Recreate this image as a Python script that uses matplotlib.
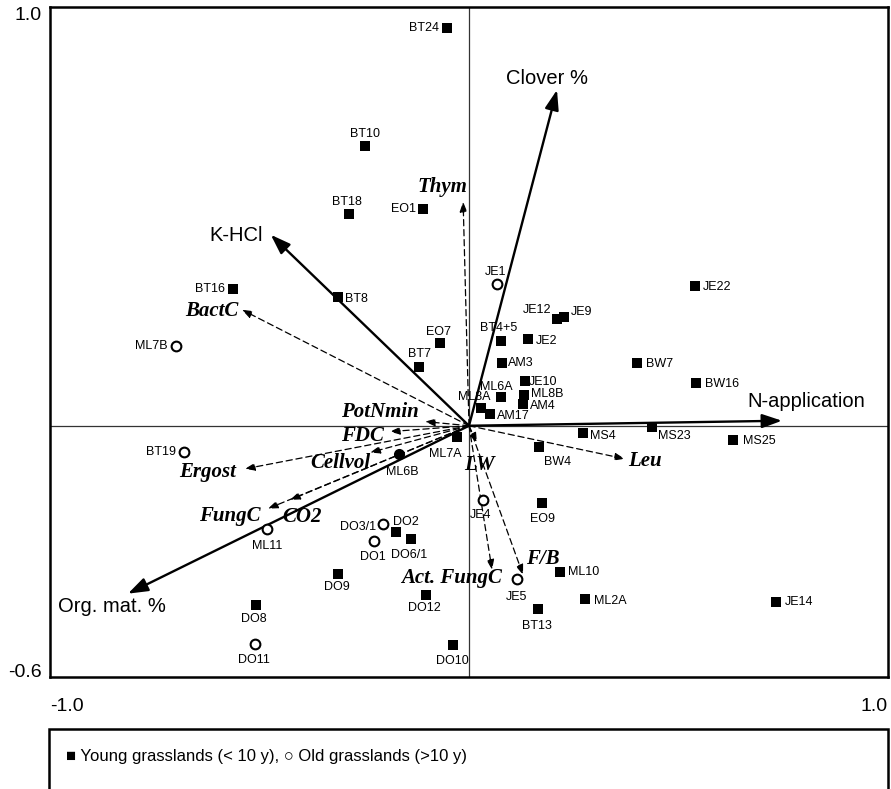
import matplotlib.pyplot as plt
from matplotlib.patches import Rectangle

plt.rcParams['font.family'] = ['Liberation Sans', 'DejaVu Sans']

# sites, young grasslands (< 10 y)
young_names = ['BT24', 'BT10', 'BT18', 'EO1', 'BT16', 'BT8', 'EO7', 'BT7', 'JE22',
               'JE12', 'JE9', 'BT4+5', 'JE2', 'AM3', 'BW7', 'BW16', 'JE10', 'ML6A',
               'ML8B', 'AM4', 'ML8A', 'AM17', 'ML7A', 'MS4', 'MS23', 'MS25', 'BW4',
               'EO9', 'DO2', 'DO6/1', 'DO9', 'DO12', 'DO8', 'DO10', 'ML10', 'ML2A',
               'BT13', 'JE14']
young_x = [-0.053, -0.248, -0.286, -0.110, -0.563, -0.313, -0.069, -0.119, 0.539,
           0.210, 0.227, 0.076, 0.141, 0.079, 0.401, 0.542, 0.134, 0.076,
           0.131, 0.129, 0.029, 0.050, -0.029, 0.272, 0.437, 0.630, 0.167,
           0.174, -0.174, -0.138, -0.313, -0.103, -0.508, -0.038, 0.217, 0.277,
           0.165, 0.733]
young_y = [0.950, 0.669, 0.506, 0.518, 0.327, 0.308, 0.198, 0.141, 0.334,
           0.256, 0.260, 0.203, 0.208, 0.150, 0.150, 0.103, 0.107, 0.069,
           0.074, 0.053, 0.043, 0.029, -0.026, -0.017, -0.002, -0.033, -0.050,
           -0.184, -0.253, -0.270, -0.353, -0.404, -0.427, -0.523, -0.349, -0.413,
           -0.437, -0.420]

# sites, old grasslands (> 10 y)
old_names = ['JE1', 'ML7B', 'BT19', 'ML11', 'DO3/1', 'DO1', 'DO11', 'JE4', 'JE5']
old_x = [0.067, -0.699, -0.680, -0.482, -0.205, -0.227, -0.511, 0.033, 0.115]
old_y = [0.339, 0.191, -0.062, -0.246, -0.234, -0.275, -0.521, -0.177, -0.365]

dot_names = ['ML6B']
dot_x = [-0.167]
dot_y = [-0.067]

# environmental variables (solid arrows)
env_names = ['Clover %', 'K-HCl', 'N-application', 'Org. mat. %']
env_x = [0.210, -0.473, 0.747, -0.814]
env_y = [0.802, 0.456, 0.012, -0.401]

# microbial variables (dashed arrows)
mic_names = ['Thym', 'BactC', 'PotNmin', 'FDC', 'Cellvol', 'Ergost', 'FungC', 'CO2',
             'LW', 'Leu', 'Act. FungC', 'F/B']
mic_x = [-0.014, -0.542, -0.105, -0.189, -0.236, -0.535, -0.480, -0.427,
         0.019, 0.372, 0.055, 0.129]
mic_y = [0.535, 0.277, 0.010, -0.014, -0.064, -0.103, -0.198, -0.177,
         -0.041, -0.079, -0.344, -0.356]

# where the arrow labels sit
env_label_xy = [(0.186, 0.829), (-0.556, 0.454), (0.804, 0.057), (-0.852, -0.432)]
mic_label_xy = [(-0.064, 0.571), (-0.613, 0.275), (-0.212, 0.033), (-0.255, -0.024),
                (-0.308, -0.088), (-0.625, -0.110), (-0.570, -0.215), (-0.399, -0.217),
                (0.026, -0.093), (0.420, -0.084), (-0.042, -0.363), (0.177, -0.318)]

# site label offsets in pixels (dx, dy, ha)
label_off = {
    'BT24': (-8, 0, 'right'), 'BT10': (0, 12, 'center'), 'BT18': (-2, 12, 'center'),
    'EO1': (-7, 0, 'right'), 'BT16': (-8, 0, 'right'), 'BT8': (7, -2, 'left'),
    'EO7': (-2, 11, 'center'), 'BT7': (0, 13, 'center'), 'JE22': (8, -1, 'left'),
    'JE12': (-20, 9, 'center'), 'JE9': (7, 5, 'left'), 'BT4+5': (-2, 13, 'center'),
    'JE2': (8, -2, 'left'), 'AM3': (6, 0, 'left'), 'BW7': (9, -1, 'left'),
    'BW16': (9, -1, 'left'), 'JE10': (4, -1, 'left'), 'ML6A': (-5, 10, 'center'),
    'ML8B': (7, 1, 'left'), 'AM4': (7, -2, 'left'), 'ML8A': (-7, 11, 'center'),
    'AM17': (7, -2, 'left'), 'ML7A': (-12, -17, 'center'), 'MS4': (7, -3, 'left'),
    'MS23': (6, -9, 'left'), 'MS25': (10, -1, 'left'), 'BW4': (19, -15, 'center'),
    'EO9': (1, -16, 'center'), 'DO2': (10, 10, 'center'), 'DO6/1': (-2, -16, 'center'),
    'DO9': (-1, -13, 'center'), 'DO12': (-1, -13, 'center'), 'DO8': (-2, -14, 'center'),
    'DO10': (-1, -16, 'center'), 'ML10': (8, 0, 'left'), 'ML2A': (9, -2, 'left'),
    'BT13': (-1, -17, 'center'), 'JE14': (9, 0, 'left'), 'JE1': (-1, 12, 'center'),
    'ML7B': (-8, 0, 'right'), 'BT19': (-8, 0, 'right'), 'ML11': (0, -17, 'center'),
    'DO3/1': (-7, -3, 'right'), 'DO1': (-1, -16, 'center'), 'DO11': (-1, -16, 'center'),
    'JE4': (-2, -15, 'center'), 'JE5': (-1, -18, 'center'), 'ML6B': (3, -18, 'center'),
}

fig = plt.figure(figsize=(8.91, 7.89), dpi=100)
ax = fig.add_axes([50 / 891, 112 / 789, 838 / 891, 670 / 789])
ax.set_xlim(-1.0, 1.0)
ax.set_ylim(-0.6, 1.0)
for sp in ax.spines.values():
    sp.set_linewidth(1.8)

ax.axhline(0, color='#333333', lw=0.9, zorder=1)
ax.axvline(0, color='#333333', lw=0.9, zorder=1)

ax.set_xticks([-1.0, 1.0], ['-1.0', '1.0'])
ax.set_yticks([-0.6, 1.0], ['-0.6', '1.0'])
ax.tick_params(length=0, labelsize=14)
ax.tick_params(axis='x', pad=15)
ax.tick_params(axis='y', pad=6)
xl = ax.get_xticklabels()
xl[0].set_ha('left')
xl[1].set_ha('right')
yl = ax.get_yticklabels()
yl[0].set_va('baseline')
yl[1].set_va('top')

# arrows
for (name, x, y), (lx, ly) in zip(zip(env_names, env_x, env_y), env_label_xy):
    ax.annotate('', xy=(x, y), xytext=(0, 0),
                arrowprops=dict(arrowstyle='-|>,head_length=12,head_width=4.2',
                                mutation_scale=1, lw=1.7, color='k',
                                shrinkA=0, shrinkB=0), zorder=3)
    ax.text(lx, ly, name, fontsize=14.5, ha='center', va='center')

for (name, x, y), (lx, ly) in zip(zip(mic_names, mic_x, mic_y), mic_label_xy):
    ax.annotate('', xy=(x, y), xytext=(0, 0),
                arrowprops=dict(arrowstyle='-|>,head_length=6,head_width=2.2',
                                mutation_scale=1, lw=0.9, color='k',
                                linestyle=(0, (5, 3)), shrinkA=0, shrinkB=0), zorder=3)
    ax.text(lx, ly, name, fontsize=15, ha='center', va='center',
            family=['Liberation Serif', 'DejaVu Serif'], style='italic', weight='bold')

# sites
ax.scatter(young_x, young_y, marker='s', s=7.5 ** 2, c='k', lw=0, zorder=4)
ax.scatter(old_x, old_y, marker='o', s=7 ** 2, facecolors='white',
           edgecolors='k', linewidths=1.5, zorder=4)
ax.scatter(dot_x, dot_y, marker='o', s=8 ** 2, c='k', lw=0, zorder=4)

for names, xs, ys in [(young_names, young_x, young_y), (old_names, old_x, old_y),
                      (dot_names, dot_x, dot_y)]:
    for name, x, y in zip(names, xs, ys):
        dx, dy, ha = label_off[name]
        ax.annotate(name, (x, y), xytext=(dx, dy), textcoords='offset pixels',
                    ha=ha, va='center', fontsize=9, zorder=5)

# legend box under the plot
fig.patches.append(Rectangle((49 / 891, -0.05), 839 / 891, 60 / 789 + 0.05,
                             transform=fig.transFigure, fill=False, lw=1.8, ec='k'))
fig.text(66 / 891, 1 - 757 / 789, '■ Young grasslands (< 10 y), ○ Old grasslands (>10 y)',
         fontsize=12, va='center')

fig.savefig('out.png', dpi=100)
